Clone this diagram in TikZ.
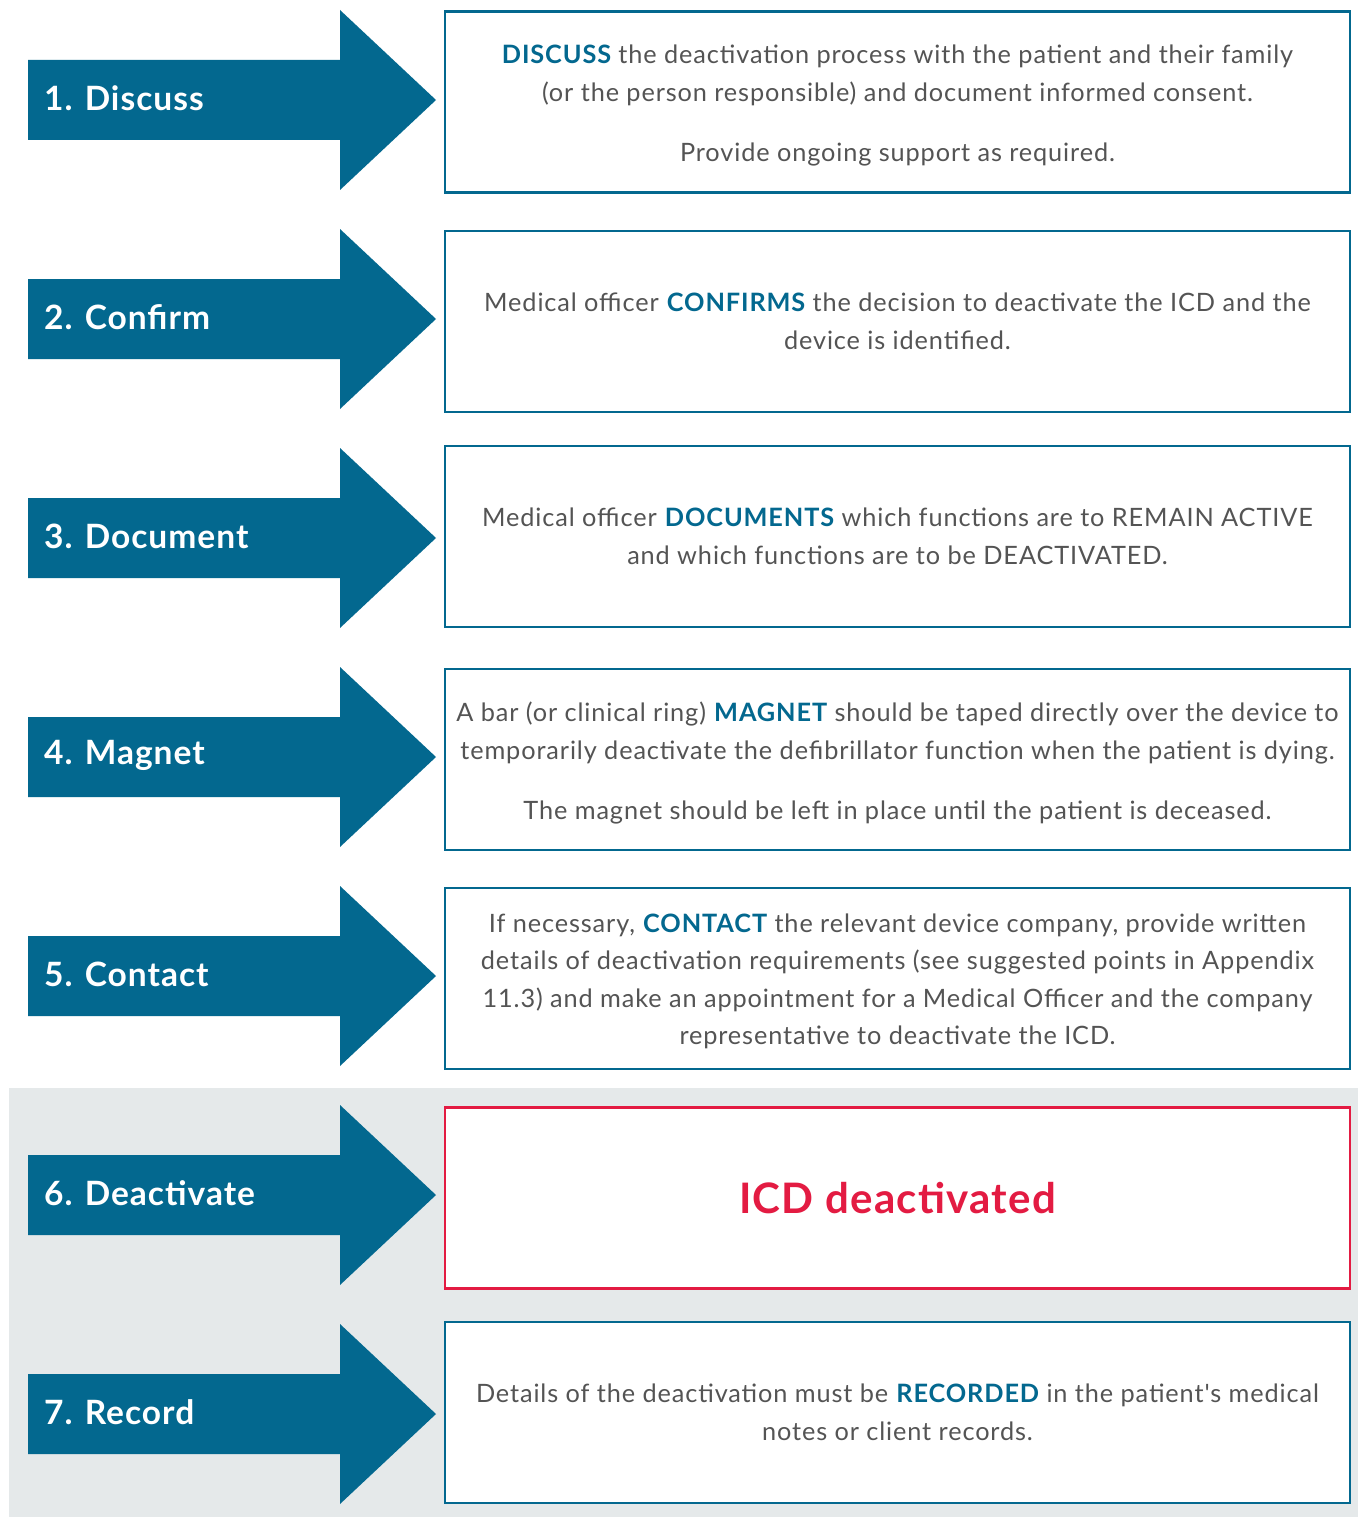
\documentclass[tikz,border=0pt]{standalone}
\usepackage{fontspec}
\setmainfont{Lato}
\newfontfamily\bodyfont[LetterSpace=3.5]{Lato}
\newfontfamily\headfont[LetterSpace=3]{Lato}
\definecolor{nblue}{HTML}{03688F}
\definecolor{nred}{HTML}{E31B42}
\definecolor{ngray}{HTML}{E5E9EA}
\definecolor{ntext}{HTML}{545454}
\newcommand{\kw}[1]{\textbf{\color{nblue}#1}}
\tikzset{
  steparrow/.style={fill=nblue},
  steplabel/.style={anchor=west, text=white, font=\headfont\fontsize{33.5}{40}\selectfont\bfseries, inner sep=0pt},
  stepbox/.style={draw=nblue, line width=2.6pt, fill=white, minimum width=905pt, minimum height=181pt,
    align=center, text=ntext, font=\bodyfont\fontsize{25.3}{37.5}\selectfont, inner sep=0pt},
  steptext/.style={align=center, text=ntext, font=\bodyfont\fontsize{25.3}{37.5}\selectfont, inner sep=0pt},
}
\begin{document}
\begin{tikzpicture}[x=1pt,y=-1pt]
\useasboundingbox[fill=white] (0,0) rectangle (1358,1517);
\fill[ngray] (9,1088) rectangle (1358,1517);
\foreach \c in {100,319,538,757,976,1195,1414}{
  \fill[steparrow] (28,\c-40) -- (340,\c-40) -- (340,\c-90) -- (436,\c) -- (340,\c+90) -- (340,\c+40) -- (28,\c+40) -- cycle;
}
\node[steplabel] (l1) at (44,98) {1. Discuss};
\node[steplabel] (l2) at (44,317) {2. Confirm};
\node[steplabel] (l3) at (44,536) {3. Document};
\node[steplabel] (l4) at (44,755) {4. Magnet};
\node[steplabel] (l5) at (44,974) {5. Contact};
\node[steplabel] (l6) at (44,1193) {6. Deactivate};
\node[steplabel] (l7) at (44,1412) {7. Record};

\node[stepbox] (b1) at (897.5,102) {};
\node[steptext] (t1) at (897.5,105.5) {\kw{DISCUSS} the deactivation process with the patient and their family\\(or the person responsible) and document informed consent.\\[23pt]Provide ongoing support as required.};
\node[stepbox] (b2) at (897.5,321.5) {Medical officer \kw{CONFIRMS} the decision to deactivate the ICD and the\\device is identified.};
\node[stepbox] (b3) at (897.5,536.5) {Medical officer \kw{DOCUMENTS} which functions are to REMAIN ACTIVE\\and which functions are to be DEACTIVATED.};
\node[stepbox] (b4) at (897.5,759.5) {};
\node[steptext] (t4) at (897.5,763) {A bar (or clinical ring) \kw{MAGNET} should be taped directly over the device to\\temporarily deactivate the defibrillator function when the patient is dying.\\[23pt]The magnet should be left in place until the patient is deceased.};
\node[stepbox] (b5) at (897.5,978.5) {};
\node[steptext] (t5) at (897.5,981.5) {If necessary, \kw{CONTACT} the relevant device company, provide written\\details of deactivation requirements (see suggested points in Appendix\\11.3) and make an appointment for a Medical Officer and the company\\representative to deactivate the ICD.};
\node[stepbox, draw=nred, text=nred, font=\headfont\fontsize{42}{50}\selectfont\bfseries] (b6) at (897.5,1198) {ICD deactivated};
\node[stepbox] (b7) at (897.5,1412.5) {Details of the deactivation must be \kw{RECORDED} in the patient's medical\\notes or client records.};
\end{tikzpicture}
\end{document}
